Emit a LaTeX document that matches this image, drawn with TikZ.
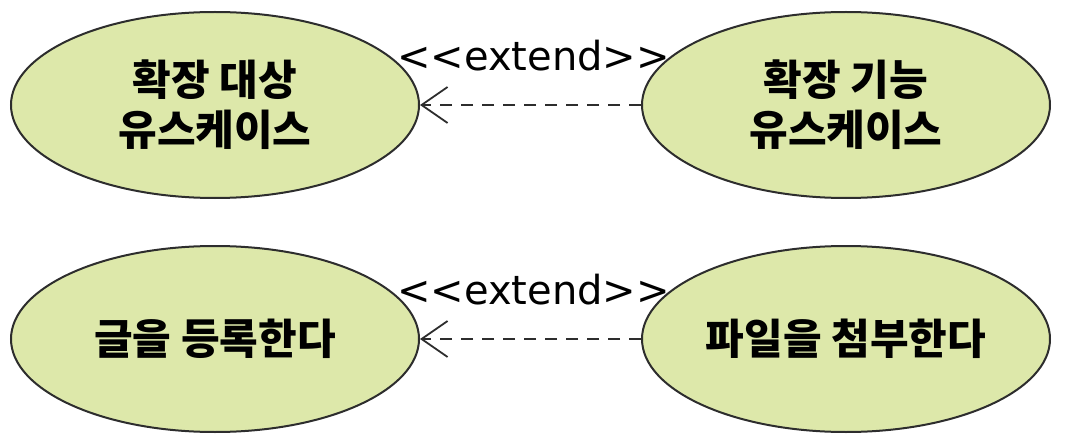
\documentclass[tikz,border=0pt]{standalone}
\usepackage{fontspec}
\newfontfamily\krfont{Noto Sans CJK KR}
\newfontfamily\labelfont{DejaVu Sans}
\usetikzlibrary{arrows.meta,positioning,shapes.geometric}
\definecolor{usefill}{RGB}{221,232,170}
\definecolor{useline}{RGB}{45,45,45}

\begin{document}
\begin{tikzpicture}[
        x=0.5pt, y=-0.5pt,
        node distance=23pt and 110.5pt,
        usecase/.style={
            ellipse,
            draw=useline,
            line width=1pt,
            fill=usefill,
            minimum width=204pt,
            minimum height=93pt,
            inner sep=0pt,
            align=center,
            font=\krfont\bfseries\fontsize{21pt}{25pt}\selectfont
        },
        stereo/.style={
            inner sep=0pt,
            font=\labelfont\fontsize{20pt}{24pt}\selectfont
        },
        extflow/.style={-{Straight Barb[length=13pt,width=18pt]}, line width=0.9pt, draw=useline, dash pattern=on 6pt off 4.5pt}
    ]
    \useasboundingbox (0,0) rectangle (1082,444);

    \node[usecase] (target) at (215,105) {확장 대상\\유스케이스};
    \node[usecase, right=of target] (extension) {확장 기능\\유스케이스};
    \node[usecase, below=of target] (post) {글을 등록한다};
    \node[usecase, right=of post] (attach) {파일을 첨부한다};

    \draw[extflow] (extension) -- node[stereo, midway, yshift=24.5pt, xshift=1.5pt] (stereotop) {<\kern0pt<extend>\kern0pt>} (target);
    \draw[extflow] (attach) -- node[stereo, midway, yshift=24.5pt, xshift=1.5pt] (stereobottom) {<\kern0pt<extend>\kern0pt>} (post);
\end{tikzpicture}
\end{document}
